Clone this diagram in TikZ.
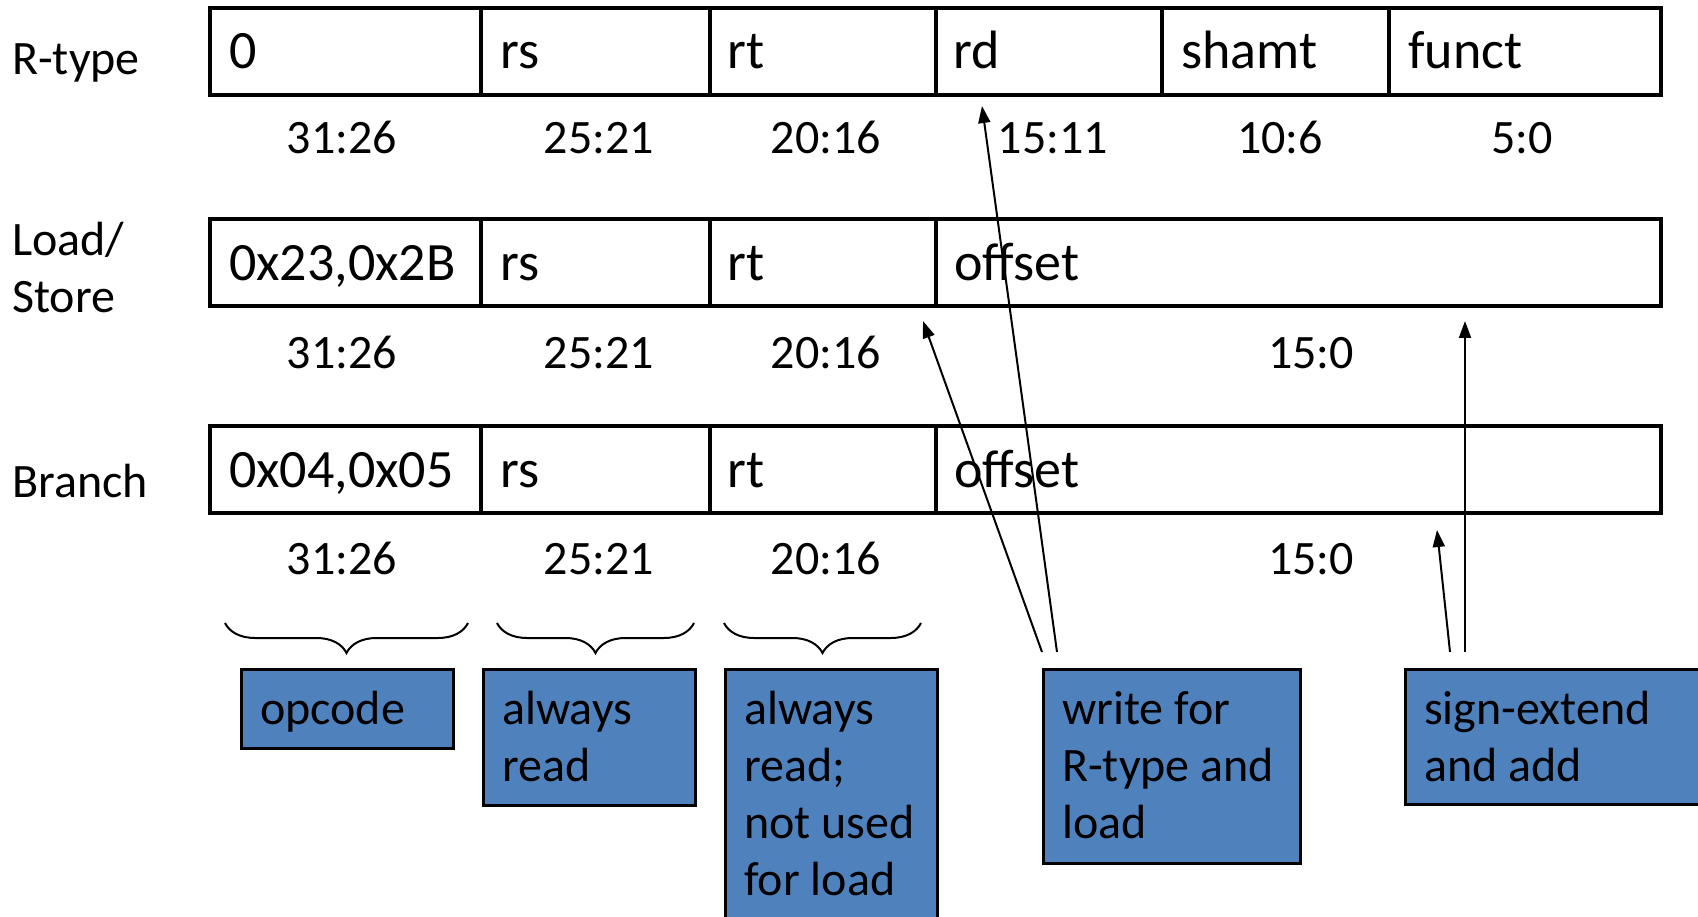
\documentclass[tikz,border=0pt]{standalone}
\usepackage{fontspec}
\setmainfont{Carlito}
\usetikzlibrary{arrows.meta,decorations.pathreplacing}
\definecolor{boxblue}{HTML}{4F81BD}
\begin{document}
\begin{tikzpicture}[x=1pt,y=-1pt,
  fld/.style={line width=3.5pt},
  ftext/.style={anchor=base west, inner sep=0pt, font=\fontsize{54}{65}\selectfont},
  bits/.style={anchor=base, inner sep=0pt, font=\fontsize{48}{57}\selectfont},
  rowlab/.style={anchor=base west, inner sep=0pt, font=\fontsize{48}{57}\selectfont},
  bluebox/.style={draw=black, fill=boxblue, line width=2.5pt, anchor=north west, inner sep=0pt},
  btext/.style={anchor=base west, inner sep=0pt, font=\fontsize{48}{57}\selectfont},
  arr/.style={line width=2pt, -{Triangle[length=17pt,width=12pt]}},
  brc/.style={line width=2pt, decorate, decoration={brace, mirror, amplitude=30pt}}
]
\clip (0,0) rectangle (1698,917);
\fill[white] (0,0) rectangle (1698,917);

% row labels
\node[rowlab] (lr) at (12,75) {R-type};
\node[rowlab] (ll) at (12,256) {\parbox[t]{200pt}{Load/\\Store}};
\node[rowlab] (lb) at (12,497) {Branch};

% R-type row
\draw[fld] (210,8) rectangle (1661,95);
\foreach \x in {481,710,936,1162,1389} \draw[fld] (\x,8) -- (\x,95);
\node[ftext] (r1) at (229,69) {0};
\node[ftext] (r2) at (500,69) {rs};
\node[ftext] (r3) at (727,69) {rt};
\node[ftext] (r4) at (953,69) {rd};
\node[ftext] (r5) at (1181,69) {shamt};
\node[ftext] (r6) at (1408,69) {funct};
\node[bits] (rb1) at (342,154) {31:26};
\node[bits] (rb2) at (599,154) {25:21};
\node[bits] (rb3) at (826,154) {20:16};
\node[bits] (rb4) at (1053,154) {15:11};
\node[bits] (rb5) at (1280,154) {10:6};
\node[bits] (rb6) at (1522,154) {5:0};

% Load/Store row
\draw[fld] (210,219) rectangle (1661,306);
\foreach \x in {481,710,936} \draw[fld] (\x,219) -- (\x,306);
\node[ftext] (l1) at (229,281) {0x23,0x2B};
\node[ftext] (l2) at (500,281) {rs};
\node[ftext] (l3) at (727,281) {rt};
\node[ftext] (l4) at (954,281) {offset};
\node[bits] (lb1) at (342,368) {31:26};
\node[bits] (lb2) at (599,368) {25:21};
\node[bits] (lb3) at (826,368) {20:16};
\node[bits] (lb4) at (1311,368) {15:0};

% Branch row
\draw[fld] (210,426) rectangle (1661,513);
\foreach \x in {481,710,936} \draw[fld] (\x,426) -- (\x,513);
\node[ftext] (b1) at (229,487) {0x04,0x05};
\node[ftext] (b2) at (500,487) {rs};
\node[ftext] (b3) at (727,487) {rt};
\node[ftext] (b4) at (954,487) {offset};
\node[bits] (bb1) at (342,574) {31:26};
\node[bits] (bb2) at (599,574) {25:21};
\node[bits] (bb3) at (826,574) {20:16};
\node[bits] (bb4) at (1311,574) {15:0};

% braces
\coordinate (br1s) at (225,623); \coordinate (br1e) at (468,623);
\coordinate (br2s) at (497,623); \coordinate (br2e) at (694,623);
\coordinate (br3s) at (724,623); \coordinate (br3e) at (921,623);
\draw[brc] (br1s) -- (br1e);
\draw[brc] (br2s) -- (br2e);
\draw[brc] (br3s) -- (br3e);

% blue boxes
\node[bluebox, minimum width=212pt, minimum height=79pt] (op) at (240,668) {};
\node[btext] (opt) at ([shift={(20,56)}]op.north west) {opcode};
\node[bluebox, minimum width=212pt, minimum height=136pt] (ar) at (482,668) {};
\node[btext] (art) at ([shift={(20,56)}]ar.north west) {\parbox[t]{200pt}{always\\read}};
\node[bluebox, minimum width=212pt, minimum height=290pt] (nu) at (724,668) {};
\node[btext] (nut) at ([shift={(20,56)}]nu.north west) {\parbox[t]{200pt}{always\\read;\\not used\\for load}};
\node[bluebox, minimum width=257pt, minimum height=194pt] (wr) at (1042,668) {};
\node[btext] (wrt) at ([shift={(20,56)}]wr.north west) {\parbox[t]{240pt}{write for\\R-type and\\load}};
\node[bluebox, minimum width=320pt, minimum height=135pt] (se) at (1404,668) {};
\node[btext] (set) at ([shift={(20,56)}]se.north west) {\parbox[t]{300pt}{sign-extend\\and add}};

% arrows
\coordinate (w1) at (1042,652); \coordinate (w2) at (1057,652);
\coordinate (s1) at (1450,652); \coordinate (s2) at (1465,652);
\coordinate (rdtip) at (982,106);
\coordinate (rttip) at (923,321);
\coordinate (lofftip) at (1465,321);
\coordinate (bofftip) at (1437,530);
\draw[arr] (w2) -- (rdtip);
\draw[arr] (w1) -- (rttip);
\draw[arr] (s2) -- (lofftip);
\draw[arr] (s1) -- (bofftip);
\end{tikzpicture}
\end{document}
